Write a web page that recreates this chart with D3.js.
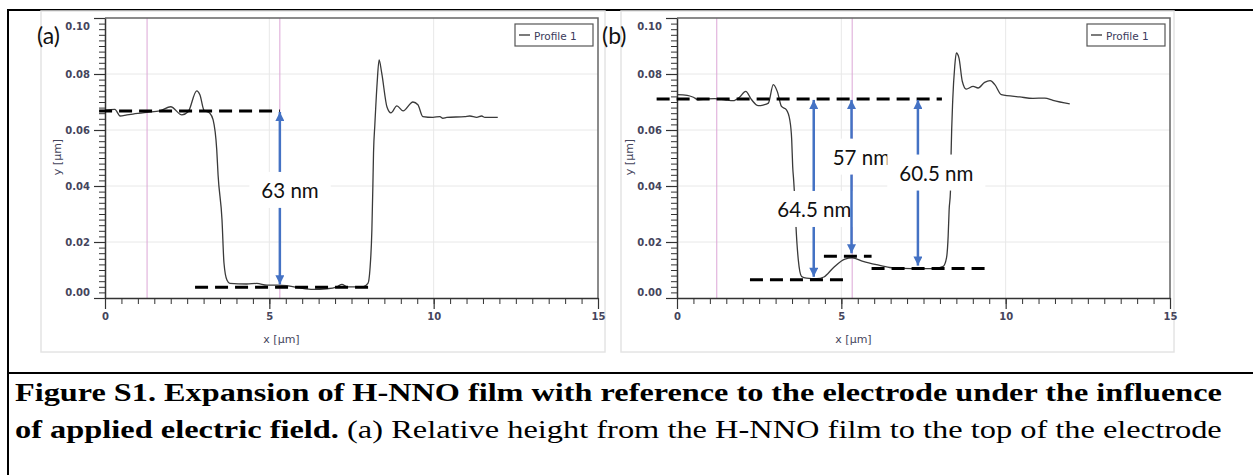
<!DOCTYPE html>
<html>
<head>
<meta charset="utf-8">
<script src="https://cdn.jsdelivr.net/npm/d3@7"></script>
<style>
  body { margin: 0; background: #fff; }
  svg { display: block; }
  .tick text { font-family: "DejaVu Sans", sans-serif; font-size: 10px; font-weight: bold; fill: #45455c; }
  .caption { font-family: "Liberation Serif", "Times New Roman", Times, serif; font-size: 25px; fill: #000; }
</style>
</head>
<body>
<script>
// profile (a), x in µm, y in µm
const xA = [0,0.30,0.46,0.67,0.85,1.28,1.67,2.0,2.34,2.53,2.79,2.89,3.01,3.19,3.29,3.40,3.44,3.56,3.62,3.71,3.80,4.31,4.62,4.93,5.23,5.53,5.93,6.33,6.75,7.06,7.21,7.36,7.85,8.0,8.06,8.12,8.15,8.17,8.21,8.28,8.34,8.42,8.58,8.70,8.88,9.07,9.37,9.52,9.67,9.98,10.19,10.28,10.40,10.95,11.10,11.31,11.46,11.56,11.95];
const yA = [0.0671,0.0674,0.0650,0.0654,0.0657,0.0663,0.0668,0.0683,0.0654,0.0665,0.0740,0.0725,0.0671,0.0660,0.0636,0.0529,0.0440,0.0279,0.0125,0.0064,0.0052,0.0050,0.0052,0.0046,0.0046,0.0044,0.0036,0.0031,0.0033,0.0040,0.0049,0.0040,0.0040,0.0052,0.0100,0.0243,0.0398,0.0518,0.0618,0.0768,0.0850,0.0803,0.0682,0.0661,0.0686,0.0668,0.0700,0.0690,0.0648,0.0645,0.0648,0.0642,0.0645,0.0648,0.0650,0.0645,0.0650,0.0645,0.0645];

// profile (b)
const xB = [0,0.31,0.50,0.65,0.90,1.15,1.46,1.71,1.91,2.09,2.27,2.47,2.62,2.78,2.93,3.05,3.18,3.33,3.43,3.49,3.52,3.55,3.59,3.62,3.69,3.79,3.94,4.25,4.47,4.75,5.11,5.33,5.66,6.07,6.47,6.88,7.39,7.79,8.10,8.20,8.25,8.28,8.32,8.34,8.39,8.45,8.50,8.58,8.68,8.80,9.01,9.16,9.36,9.53,9.67,9.87,10.43,10.83,11.19,11.44,11.95];
const yB = [0.0726,0.0724,0.0717,0.0708,0.0711,0.0712,0.0708,0.0705,0.0718,0.0738,0.0708,0.0687,0.0689,0.0696,0.0762,0.0738,0.0684,0.0672,0.0637,0.0565,0.0470,0.0420,0.0339,0.0256,0.0137,0.0077,0.0071,0.0069,0.0075,0.0107,0.0139,0.0143,0.0131,0.0119,0.0109,0.0106,0.0105,0.0105,0.0113,0.0143,0.0220,0.0315,0.0380,0.0518,0.0708,0.0827,0.0875,0.0857,0.0774,0.0746,0.0756,0.0750,0.0770,0.0776,0.0762,0.0726,0.0718,0.0713,0.0714,0.0706,0.0693];

const xMajor = [0, 5, 10, 15];
const xMinor = d3.range(0, 15.01, 0.5);
const yMajor = [0, 0.02, 0.04, 0.06, 0.08, 0.10];
const yMinor = d3.range(0, 0.1001, 0.002);
const xGrid = [5, 10];
const yGrid = [0.02, 0.04, 0.06, 0.08];

// cursor lines (pink)
const cursorsA = [1.28, 5.32];
const cursorsB = [1.21, 5.33];

// dashed level lines: [x start, x end, level]
const levelsA = [[-0.18, 5.32, 0.0668], [2.74, 8.15, 0.0038]];
const levelsB = [[-0.62, 8.06, 0.0711], [2.22, 5.16, 0.0065], [4.47, 5.92, 0.0149], [5.92, 9.42, 0.0105]];

// height arrows
const heightsA = [{x: 5.32, top: 0.0668, bottom: 0.0038, label: '63 nm', lx: 5.63, ly: 0.0386}];
const heightsB = [
    {x: 4.16, top: 0.0711, bottom: 0.0065, label: '64.5 nm', lx: 4.18, ly: 0.0318},
    {x: 5.31, top: 0.0711, bottom: 0.0149, label: '57 nm', lx: 5.61, ly: 0.0505},
    {x: 7.33, top: 0.0711, bottom: 0.0105, label: '60.5 nm', lx: 7.89, ly: 0.0448}
];

const W = 1253, H = 475;
const svg = d3.select('body').append('svg').attr('width', W).attr('height', H);

svg.append('defs').append('marker')
    .attr('id', 'head')
    .attr('markerUnits', 'userSpaceOnUse')
    .attr('viewBox', '0 0 10 10')
    .attr('refX', 10).attr('refY', 5)
    .attr('markerWidth', 10).attr('markerHeight', 9)
    .attr('orient', 'auto')
    .append('path').attr('d', 'M0,0L10,5L0,10Z').attr('fill', '#4472c4');

// table borders
svg.append('line').attr('x1', 8).attr('x2', W).attr('y1', 10).attr('y2', 10).attr('stroke', '#000').attr('stroke-width', 2);
svg.append('line').attr('x1', 8).attr('x2', 8).attr('y1', 9).attr('y2', H).attr('stroke', '#000').attr('stroke-width', 2);
svg.append('line').attr('x1', 8).attr('x2', W).attr('y1', 373).attr('y2', 373).attr('stroke', '#000').attr('stroke-width', 2);

const panels = [
    {letter: '(a)', lx: 37, box: [41, 11, 605, 352], x0: 105, x1: 598, legend: 515,
     xs: xA, ys: yA, cursors: cursorsA, levels: levelsA, heights: heightsA},
    {letter: '(b)', lx: 602, box: [621, 11, 1174, 352], x0: 677, x1: 1170, legend: 1087,
     xs: xB, ys: yB, cursors: cursorsB, levels: levelsB, heights: heightsB}
];

panels.forEach(p => {
    const g = svg.append('g');
    g.append('rect')
        .attr('x', p.box[0]).attr('y', p.box[1])
        .attr('width', p.box[2] - p.box[0]).attr('height', p.box[3] - p.box[1])
        .attr('fill', '#fff').attr('stroke', '#e4e4e4').attr('stroke-width', 1.5);

    const x = d3.scaleLinear().domain([0, 15]).range([p.x0, p.x1]);
    const y = d3.scaleLinear().domain([0, 0.10]).range([298, 18]);

    // grid
    g.selectAll('.hg').data(yGrid).join('line')
        .attr('x1', p.x0).attr('x2', p.x1).attr('y1', d => y(d)).attr('y2', d => y(d))
        .attr('stroke', '#e8e8e8').attr('stroke-width', 1);
    g.selectAll('.vg').data(xGrid).join('line')
        .attr('x1', d => x(d)).attr('x2', d => x(d)).attr('y1', 18).attr('y2', 298)
        .attr('stroke', '#e8e8e8').attr('stroke-width', 1);
    g.selectAll('.cur').data(p.cursors).join('line')
        .attr('x1', d => x(d)).attr('x2', d => x(d)).attr('y1', 18).attr('y2', 298)
        .attr('stroke', '#dca6d6').attr('stroke-width', 1);

    // frame top / right
    g.append('path')
        .attr('d', `M${p.x0},${y(0.1)}H${p.x1}V${y(0)}`)
        .attr('fill', 'none').attr('stroke', '#666').attr('stroke-width', 1.5);

    // profile
    const line = d3.line().x(d => x(d[0])).y(d => y(d[1])).curve(d3.curveMonotoneX);
    g.append('path').datum(d3.zip(p.xs, p.ys))
        .attr('d', line)
        .attr('fill', 'none').attr('stroke', '#3a3a3a').attr('stroke-width', 1.3);

    // axes
    const axX = g.append('g').attr('transform', `translate(0,${y(0)})`)
        .call(d3.axisBottom(x).tickValues(xMajor).tickSize(11).tickSizeOuter(0).tickPadding(4));
    g.append('g').attr('transform', `translate(0,${y(0)})`)
        .call(d3.axisBottom(x).tickValues(xMinor).tickSize(6).tickFormat(''))
        .call(a => a.select('.domain').remove());
    const axY = g.append('g').attr('transform', `translate(${p.x0},0)`)
        .call(d3.axisLeft(y).tickValues(yMajor).tickSize(11).tickSizeOuter(0).tickPadding(4).tickFormat(d3.format('.2f')));
    g.append('g').attr('transform', `translate(${p.x0},0)`)
        .call(d3.axisLeft(y).tickValues(yMinor).tickSize(6).tickFormat(''))
        .call(a => a.select('.domain').remove());
    [axX, axY].forEach(a => {
        a.selectAll('.domain').attr('stroke', '#333').attr('stroke-width', 1.5);
        a.selectAll('.tick line').attr('stroke', '#333').attr('stroke-width', 1.2);
    });
    g.selectAll('.tick line').attr('stroke', '#333');
    axY.selectAll('.tick text').attr('dy', d => d === 0 ? '-0.25em' : d === 0.1 ? '1.1em' : '0.32em');

    g.append('text').attr('x', (p.x0 + p.x1) / 2 - 70).attr('y', 343)
        .attr('text-anchor', 'middle')
        .style('font-family', 'DejaVu Sans').style('font-size', '11px').attr('fill', '#45455c')
        .text('x [µm]');
    g.append('text').attr('transform', `translate(${p.x0 - 44},157) rotate(-90)`)
        .attr('text-anchor', 'middle')
        .style('font-family', 'DejaVu Sans').style('font-size', '11px').attr('fill', '#45455c')
        .text('y [µm]');

    // legend
    g.append('rect').attr('x', p.legend).attr('y', 24).attr('width', 78).attr('height', 22)
        .attr('fill', '#fff').attr('stroke', '#555').attr('stroke-width', 1.2);
    g.append('line').attr('x1', p.legend + 4).attr('x2', p.legend + 15).attr('y1', 35).attr('y2', 35)
        .attr('stroke', '#333').attr('stroke-width', 1.3);
    g.append('text').attr('x', p.legend + 19).attr('y', 39.5)
        .style('font-family', 'DejaVu Sans').style('font-size', '10.5px').attr('fill', '#3a3a5a')
        .text('Profile 1');

    // dashed levels
    g.selectAll('.lvl').data(p.levels).join('line')
        .attr('x1', d => x(d[0])).attr('x2', d => x(d[1]))
        .attr('y1', d => y(d[2])).attr('y2', d => y(d[2]))
        .attr('stroke', '#000').attr('stroke-width', 3).attr('stroke-dasharray', '13,7');

    // height arrows with labels
    p.heights.forEach(h => {
        const t = g.append('text').attr('x', x(h.lx)).attr('y', y(h.ly))
            .attr('text-anchor', 'middle').attr('dominant-baseline', 'central')
            .style('font-family', 'Lato').style('font-size', '20.5px').attr('fill', '#111')
            .text(h.label);
        const b = t.node().getBBox();
        g.insert('rect', () => t.node())
            .attr('x', b.x - 12).attr('y', b.y - 6).attr('width', b.width + 24).attr('height', b.height + 12)
            .attr('fill', '#fff');
        g.insert('line', () => t.node())
            .attr('x1', x(h.x)).attr('x2', x(h.x)).attr('y1', b.y - 6).attr('y2', y(h.top) + 1)
            .attr('stroke', '#4472c4').attr('stroke-width', 2.5).attr('marker-end', 'url(#head)');
        g.insert('line', () => t.node())
            .attr('x1', x(h.x)).attr('x2', x(h.x)).attr('y1', b.y + b.height + 6).attr('y2', y(h.bottom) - 3)
            .attr('stroke', '#4472c4').attr('stroke-width', 2.5).attr('marker-end', 'url(#head)');
    });

    svg.append('text').attr('x', p.lx).attr('y', 44)
        .style('font-family', 'Lato').style('font-size', '23px').attr('fill', '#111')
        .text(p.letter);
});

// caption, stretched between the table margins like the scanned figure
const capX = 15, capW = 1207;
function stretch(t, yBase) {
    const w = t.node().getComputedTextLength();
    t.attr('x', 0).attr('y', 0)
        .attr('transform', `translate(${capX},${yBase}) scale(${capW / w},1)`);
}
const c1 = svg.append('text').attr('class', 'caption').attr('font-weight', 'bold')
    .text('Figure S1. Expansion of H-NNO film with reference to the electrode under the influence');
stretch(c1, 401);
const c2 = svg.append('text').attr('class', 'caption');
c2.append('tspan').attr('font-weight', 'bold').text('of applied electric field.');
c2.append('tspan').text(' (a) Relative height from the H-NNO film to the top of the electrode');
stretch(c2, 438);
</script>
</body>
</html>
